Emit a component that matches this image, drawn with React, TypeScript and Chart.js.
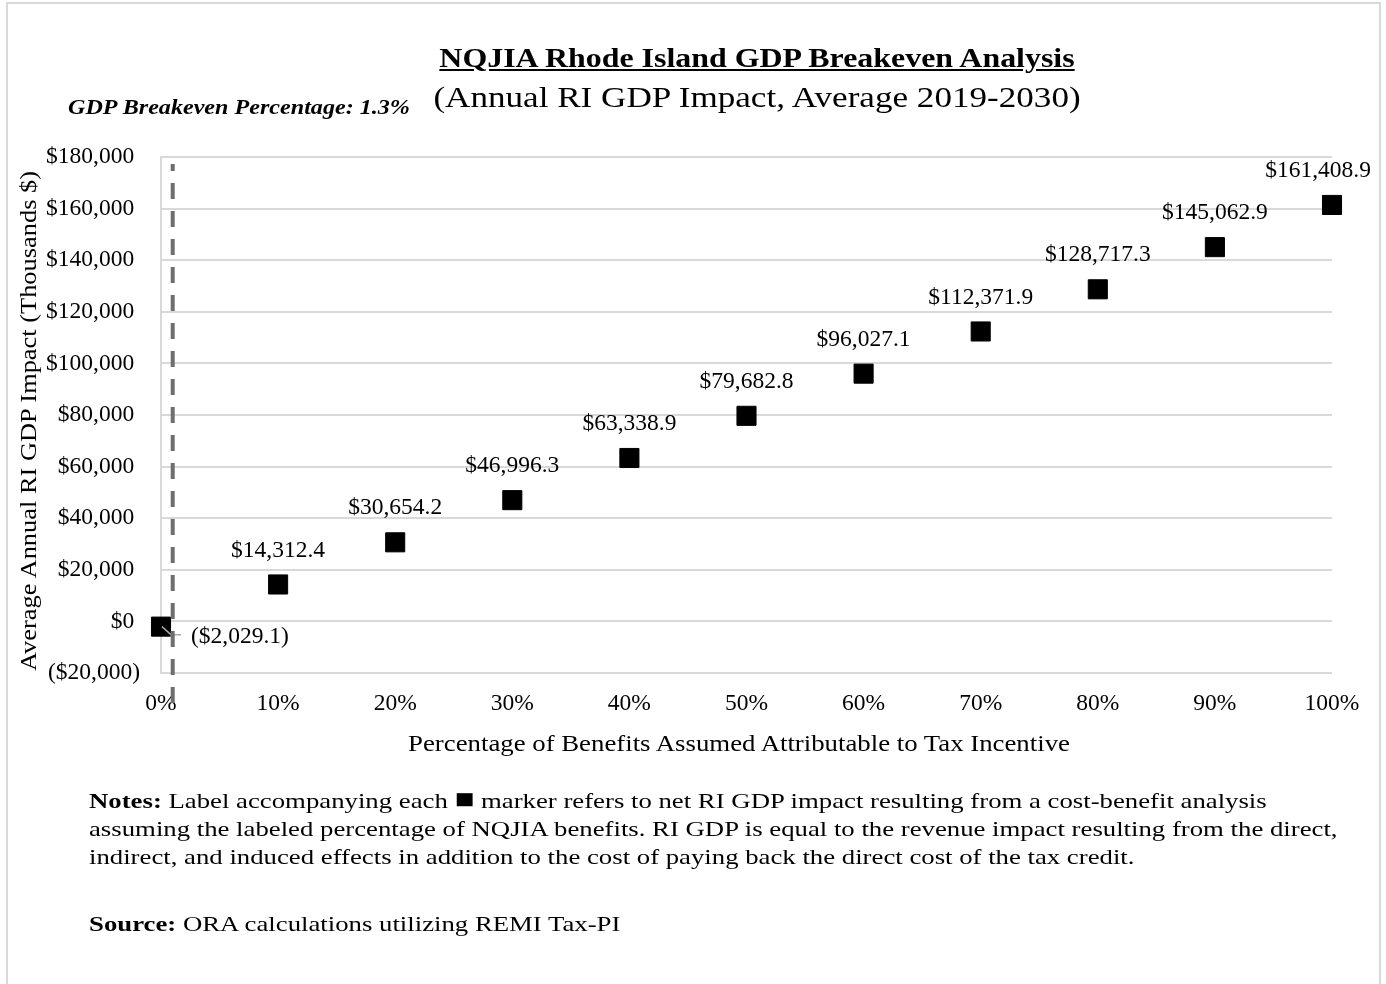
import React, { useEffect, useRef } from "react";
import { Chart, registerables } from "chart.js";

Chart.register(...registerables);

const benefitShares = [0, 0.1, 0.2, 0.3, 0.4, 0.5, 0.6, 0.7, 0.8, 0.9, 1.0];
const gdpImpact = [
  -2029.1, 14312.4, 30654.2, 46996.3, 63338.9, 79682.8, 96027.1, 112371.9,
  128717.3, 145062.9, 161408.9,
];
const yMin = -20000;
const yMax = 180000;
const yStep = 20000;
const breakevenLineX = 0.01;

const titleText = "NQJIA Rhode Island GDP Breakeven Analysis";
const subtitleText = "(Annual RI GDP Impact, Average 2019-2030)";
const breakevenText = "GDP Breakeven Percentage: 1.3%";
const yAxisTitle = "Average Annual RI GDP Impact (Thousands $)";
const xAxisTitle = "Percentage of Benefits Assumed Attributable to Tax Incentive";

const SERIF = "'Liberation Serif', 'Times New Roman', Times, serif";

const fmtTick = (v: number) =>
  v < 0
    ? `($${Math.abs(v).toLocaleString("en-US")})`
    : `$${v.toLocaleString("en-US")} `;

const fmtLabel = (v: number) => {
  const s = Math.abs(v).toLocaleString("en-US", {
    minimumFractionDigits: 1,
    maximumFractionDigits: 1,
  });
  return v < 0 ? `($${s})` : `$${s}`;
};

const overlayPlugin = {
  id: "overlay",
  afterDatasetsDraw(chart: any) {
    const { ctx, chartArea, scales } = chart;
    const xs = scales.x;
    const meta = chart.getDatasetMeta(0);
    ctx.save();
    // leader line for first point
    const p0 = meta.data[0];
    ctx.strokeStyle = "#a6a6a6";
    ctx.lineWidth = 1.5;
    ctx.beginPath();
    ctx.moveTo(p0.x + 1, p0.y);
    ctx.lineTo(p0.x + 10, p0.y + 8);
    ctx.lineTo(p0.x + 20, p0.y + 8);
    ctx.stroke();

    // dashed breakeven line
    const bx = xs.getPixelForValue(breakevenLineX);
    ctx.strokeStyle = "#6e6e6e";
    ctx.lineWidth = 4;
    ctx.setLineDash([16, 12]);
    ctx.lineDashOffset = 9;
    ctx.beginPath();
    ctx.moveTo(bx, chartArea.top + 7);
    ctx.lineTo(bx, chartArea.bottom + 34);
    ctx.stroke();
    ctx.setLineDash([]);

    // data labels
    ctx.font = `23.5px ${SERIF}`;
    ctx.fillStyle = "#000";
    ctx.textBaseline = "middle";
    const n = meta.data.length;
    meta.data.forEach((pt: any, i: number) => {
      const txt = fmtLabel(gdpImpact[i]);
      if (i === 0) {
        ctx.textAlign = "left";
        ctx.fillText(txt, pt.x + 30, pt.y + 10);
      } else if (i === n - 1) {
        ctx.textAlign = "center";
        ctx.fillText(txt, pt.x - 14, pt.y - 34);
      } else {
        ctx.textAlign = "center";
        ctx.fillText(txt, pt.x, pt.y - 34);
      }
    });
    ctx.restore();
  },
};

export default function App() {
  const canvasRef = useRef<HTMLCanvasElement | null>(null);

  useEffect(() => {
    if (!canvasRef.current) return;
    const chart = new Chart(canvasRef.current, {
      type: "scatter",
      data: {
        datasets: [
          {
            data: benefitShares.map((x, i) => ({ x, y: gdpImpact[i] })),
            pointStyle: "rect",
            pointRadius: 13.5,
            pointHoverRadius: 13.5,
            backgroundColor: "#000",
            borderColor: "#000",
            borderWidth: 1,
            showLine: false,
            clip: false,
          },
        ],
      },
      options: {
        responsive: false,
        animation: false,
        devicePixelRatio: 1,
        events: [],
        layout: { padding: { left: 11, right: 54, top: 157, bottom: 224 } },
        plugins: {
          legend: { display: false },
          tooltip: { enabled: false },
          title: { display: false },
        },
        scales: {
          x: {
            type: "linear",
            min: 0,
            max: 1,
            afterFit: (s: any) => {
              s.height = 87;
            },
            ticks: {
              stepSize: 0.1,
              padding: 17,
              color: "#000",
              font: { family: SERIF, size: 23.5 },
              callback: (v: any) => `${Math.round(Number(v) * 100)}%`,
              maxRotation: 0,
            },
            grid: { display: false, drawTicks: false },
            border: { display: false },
          },
          y: {
            type: "linear",
            min: yMin,
            max: yMax,
            afterFit: (s: any) => {
              s.width = 150;
            },
            ticks: {
              stepSize: yStep,
              padding: 21,
              color: "#000",
              font: { family: SERIF, size: 23.5 },
              callback: (v: any) => fmtTick(Number(v)),
            },
            grid: { color: "#d9d9d9", lineWidth: 2, drawTicks: false },
            border: { display: true, color: "#d9d9d9", width: 2 },
          },
        },
      },
      plugins: [overlayPlugin],
    });
    return () => chart.destroy();
  }, []);

  const abs = (extra: React.CSSProperties): React.CSSProperties => ({
    position: "absolute",
    whiteSpace: "nowrap",
    fontFamily: SERIF,
    color: "#000",
    ...extra,
  });

  return (
    <div
      style={{
        position: "absolute",
        left: 0,
        top: 0,
        width: 1386,
        height: 984,
        overflow: "hidden",
        background: "#fff",
      }}
    >
      <div
        style={{
          position: "absolute",
          left: 6,
          top: 2,
          width: 1375,
          height: 1000,
          border: "2px solid #d9d9d9",
          boxSizing: "border-box",
        }}
      />
      <canvas
        ref={canvasRef}
        width={1386}
        height={984}
        style={{ position: "absolute", left: 0, top: 0, width: 1386, height: 984 }}
      />
      <div
        style={abs({
          left: 757,
          top: 58,
          transform: "translate(-50%, -50%) scaleX(1.14)",
          fontSize: 28,
          lineHeight: "32px",
          fontWeight: "bold",
          textDecoration: "underline",
        })}
      >
        {titleText}
      </div>
      <div
        style={abs({
          left: 757,
          top: 97,
          transform: "translate(-50%, -50%) scaleX(1.17)",
          fontSize: 30,
          lineHeight: "34px",
        })}
      >
        {subtitleText}
      </div>
      <div
        style={abs({
          left: 68,
          top: 93,
          transformOrigin: "0 50%",
          transform: "scaleX(1.096)",
          fontSize: 22,
          lineHeight: "28px",
          fontWeight: "bold",
          fontStyle: "italic",
        })}
      >
        {breakevenText}
      </div>
      <div
        style={abs({
          left: 28,
          top: 421,
          transform: "translate(-50%, -50%) rotate(-90deg) scaleX(1.1)",
          fontSize: 24,
          lineHeight: "28px",
        })}
      >
        {yAxisTitle}
      </div>
      <div
        style={abs({
          left: 739,
          top: 743,
          transform: "translate(-50%, -50%) scaleX(1.116)",
          fontSize: 24,
          lineHeight: "28px",
        })}
      >
        {xAxisTitle}
      </div>
      <div
        style={abs({
          left: 89,
          top: 787,
          transformOrigin: "0 0",
          transform: "scaleX(1.216)",
          fontSize: 22,
          lineHeight: "28px",
        })}
      >
        <b>Notes:</b> Label accompanying each{" "}
        <span style={{ fontSize: 27, lineHeight: "20px" }}>■</span> marker refers
        to net RI GDP impact resulting from a cost-benefit analysis
        <br />
        assuming the labeled percentage of NQJIA benefits. RI GDP is equal to the
        revenue impact resulting from the direct,
        <br />
        indirect, and induced effects in addition to the cost of paying back the
        direct cost of the tax credit.
      </div>
      <div
        style={abs({
          left: 89,
          top: 910,
          transformOrigin: "0 0",
          transform: "scaleX(1.216)",
          fontSize: 22,
          lineHeight: "28px",
        })}
      >
        <b>Source:</b> ORA calculations utilizing REMI Tax-PI
      </div>
    </div>
  );
}
